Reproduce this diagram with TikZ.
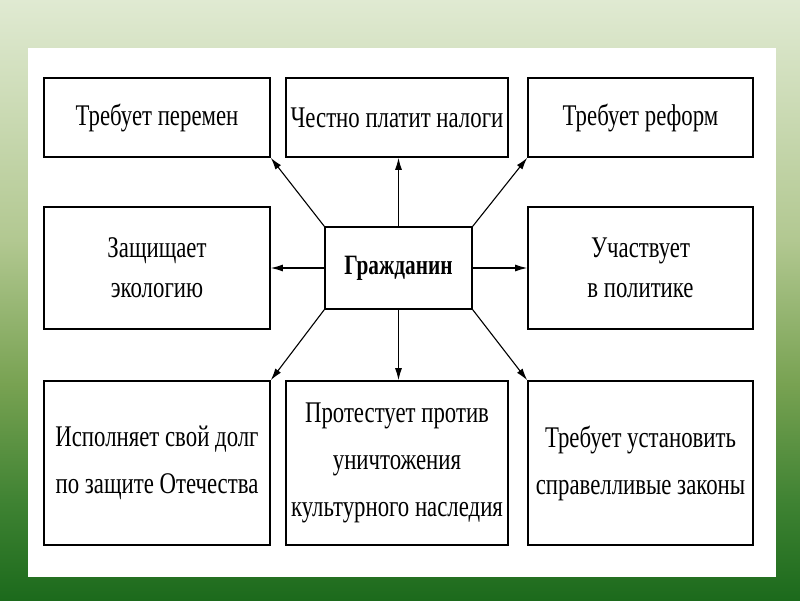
\documentclass[tikz,border=0pt]{standalone}
\usepackage{fontspec}
\setmainfont{Liberation Serif}[FakeStretch=0.76]
\usetikzlibrary{
	arrows.meta				% Allows Latex[...] arrow tips
	, shadings
}

\definecolor{bgtop}{RGB}{224,234,210}
\definecolor{bgmidA}{RGB}{178,200,145}
\definecolor{bgmidB}{RGB}{120,162,82}
\definecolor{bgmidC}{RGB}{62,130,50}
\definecolor{bgbot}{RGB}{28,106,28}
% the path is laid over 25bp--75bp of the shading
\pgfdeclareverticalshading{slidebg}{100bp}{color(0bp)=(bgbot); color(25bp)=(bgbot); color(33bp)=(bgmidC); color(43bp)=(bgmidB); color(55bp)=(bgmidA); color(75bp)=(bgtop); color(100bp)=(bgtop)}

\begin{document}
\begin{tikzpicture}[x=1pt, y=-1pt]
			\begin{scope}[
				duty/.style={draw=black, line width=1.6pt, fill=white, inner sep=2pt,
					align=center, font=\fontsize{30}{40}\selectfont},
				tall/.style={font=\fontsize{30}{47}\selectfont},
				link/.style={draw=black, line width=1.1pt, -{Latex[length=12pt, width=7pt]}}]

				\useasboundingbox (0, 0) rectangle (800, 600);
				\shade[shading=slidebg] (0, 0) rectangle (800, 600);
				\fill[white] (28, 48) rectangle (776, 577);

				%% Row 1
				\node[duty, minimum width=226pt, minimum height=79pt] (change) at (157, 117.5) {Требует перемен};
				\node[duty, minimum width=222pt, minimum height=79pt] (taxes) at (397, 117.5) {Честно платит налоги};
				\node[duty, minimum width=225pt, minimum height=79pt] (reform) at (640.5, 117.5) {Требует реформ};

				%% Row 2
				\node[duty, minimum width=226pt, minimum height=122pt] (ecology) at (157, 268) {Защищает\\экологию};
				\node[duty, minimum width=147pt, minimum height=82pt, font=\fontsize{28}{38}\selectfont\bfseries] (citizen) at (398.5, 268) {Гражданин};
				\node[duty, minimum width=225pt, minimum height=122pt] (politics) at (640.5, 268) {Участвует\\в политике};

				%% Row 3
				\node[duty, tall, minimum width=226pt, minimum height=164pt] (duty) at (157, 463) {Исполняет свой долг\\по защите Отечества};
				\node[duty, tall, minimum width=222pt, minimum height=164pt] (heritage) at (397, 463) {Протестует против\\уничтожения\\культурного наследия};
				\node[duty, tall, minimum width=225pt, minimum height=164pt] (laws) at (640.5, 463) {Требует установить\\справелливые законы};

				% Arrows out of the centre
				\draw[link] (citizen.north west) -- (change.south east);
				\draw[link] (citizen.north) -- (citizen.north |- taxes.south);
				\draw[link] (citizen.north east) -- (reform.south west);
				\draw[link] (citizen.west) -- (citizen.west -| ecology.east);
				\draw[link] (citizen.east) -- (citizen.east -| politics.west);
				\draw[link] (citizen.south west) -- (duty.north east);
				\draw[link] (citizen.south) -- (citizen.south |- heritage.north);
				\draw[link] (citizen.south east) -- (laws.north west);
			\end{scope}
		\end{tikzpicture}
\end{document}
